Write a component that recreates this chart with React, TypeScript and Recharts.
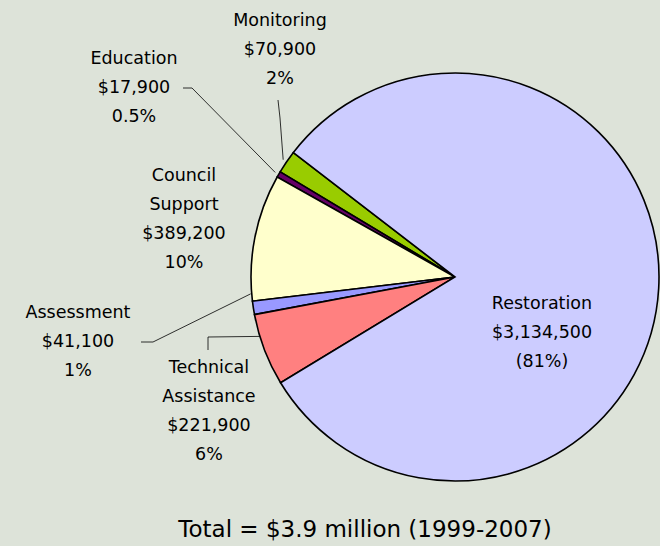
import React from "react"
import { PieChart, Pie, Cell } from "recharts"

document.body.style.margin = "0"

// slice order runs counterclockwise from the Monitoring/Restoration edge
const categories = ["Monitoring", "Education", "Council Support", "Assessment", "Technical Assistance", "Restoration"]
const amounts = [70900, 17900, 389200, 41100, 221900, 3134500]
const percentLabels = ["2%", "0.5%", "10%", "1%", "6%", "(81%)"]
const colors = ["#99CC00", "#660066", "#FFFFCC", "#9999FF", "#FF8080", "#CCCCFF"]

const data = categories.map((name, i) => ({ name, value: amounts[i] }))

const money = (v: number) => "$" + v.toLocaleString("en-US")

// label text blocks: center x, first line y, text lines, leader path (label end), leader angle nudge
const labelSpots: { x: number; y: number; lines: string[]; lead?: [number, number][]; nudge?: number; gap?: number }[] = [
  { x: 280, y: 20, lines: ["Monitoring", money(amounts[0]), percentLabels[0]], lead: [[278, 100], [280, 118]], gap: 4 },
  { x: 134, y: 58, lines: ["Education", money(amounts[1]), percentLabels[1]], lead: [[183, 88], [192, 88]], gap: 4 },
  { x: 184, y: 175, lines: ["Council", "Support", money(amounts[2]), percentLabels[2]] },
  { x: 78, y: 312, lines: ["Assessment", money(amounts[3]), percentLabels[3]], lead: [[141, 342], [153, 342]], nudge: -4, gap: 1 },
  { x: 209, y: 367, lines: ["Technical", "Assistance", money(amounts[4]), percentLabels[4]], lead: [[208, 350], [208, 337]], nudge: -4, gap: 0 },
  { x: 542, y: 303, lines: ["Restoration", money(amounts[5]), percentLabels[5]] },
]

const RAD = Math.PI / 180
const LINE_H = 29

const renderLabel = (props: any) => {
  const { cx, cy, midAngle, outerRadius, index } = props
  const spot = labelSpots[index]
  let lead = null
  if (spot.lead) {
    const r = outerRadius + (spot.gap ?? 0)
    const a = (midAngle + (spot.nudge ?? 0)) * RAD
    const ex = cx + r * Math.cos(-a)
    const ey = cy + r * Math.sin(-a)
    const pts = [...spot.lead, [ex, ey]].map((p) => p.join(",")).join(" ")
    lead = <polyline points={pts} fill="none" stroke="#000" strokeWidth={0.8} />
  }
  return (
    <g key={"lbl" + index}>
      {lead}
      <text
        x={spot.x}
        y={spot.y}
        textAnchor="middle"
        fontFamily="DejaVu Sans, sans-serif"
        fontSize={17.5}
        fill="#000"
      >
        {spot.lines.map((ln, j) => (
          <tspan key={j} x={spot.x} y={spot.y + j * LINE_H} dominantBaseline="central">
            {ln}
          </tspan>
        ))}
      </text>
    </g>
  )
}

export default function App() {
  return (
    <div style={{ position: "relative", width: 660, height: 546, background: "#DDE3D9", overflow: "hidden" }}>
      <PieChart width={660} height={546} margin={{ top: 0, right: 0, bottom: 0, left: 0 }}>
        <Pie
          data={data}
          dataKey="value"
          nameKey="name"
          cx={455}
          cy={277}
          outerRadius={204}
          startAngle={142.4}
          endAngle={502.4}
          stroke="#000"
          strokeWidth={1.6}
          label={renderLabel}
          labelLine={false}
          isAnimationActive={false}
        >
          {data.map((d, i) => (
            <Cell key={d.name} fill={colors[i]} />
          ))}
        </Pie>
      </PieChart>
      <div
        style={{
          position: "absolute",
          left: 0,
          width: 730,
          top: 516,
          textAlign: "center",
          fontFamily: "DejaVu Sans, sans-serif",
          fontSize: 23,
          color: "#000",
        }}
      >
        Total = $3.9 million (1999-2007)
      </div>
    </div>
  )
}
